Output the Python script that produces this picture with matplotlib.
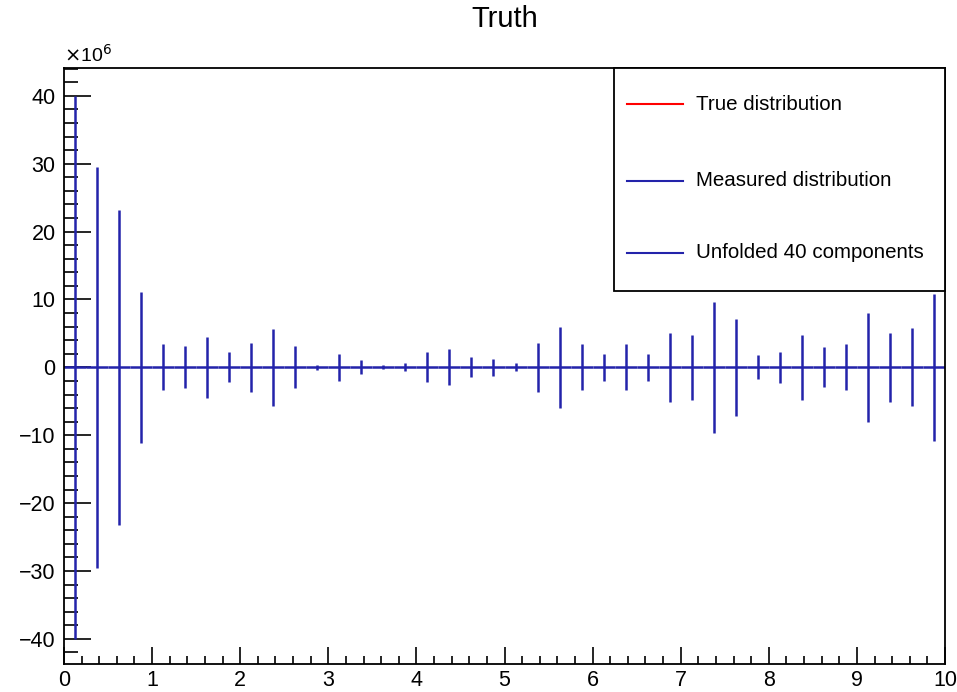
import numpy as np
import matplotlib.pyplot as plt
from matplotlib.ticker import MultipleLocator, FuncFormatter
from matplotlib.patches import Rectangle
from matplotlib.lines import Line2D

plt.rcParams['font.family'] = ['Liberation Sans', 'DejaVu Sans']

# 40 bins on [0, 10]
bin_centers = np.arange(40) * 0.25 + 0.125
unfolded_values = np.zeros(40)
# errors in units of 1e6
unfolded_errors = [40.0, 29.5, 23.2, 11.1, 3.38, 3.09, 4.5, 2.2, 3.58, 5.64,
                   3.09, 0.34, 1.96, 1.03, 0.3, 0.59, 2.2, 2.65, 1.47, 1.28,
                   0.59, 3.6, 5.94, 3.38, 2.01, 3.38, 2.01, 5.05, 4.81, 9.67,
                   7.11, 1.77, 2.26, 4.81, 2.94, 3.38, 8.05, 5.05, 5.74, 10.8]
legend_labels = ['True distribution', 'Measured distribution', 'Unfolded 40 components']
legend_colors = ['red', '#2323aa', '#2323aa']

blue = '#2323aa'
W, H = 957, 692

fig = plt.figure(figsize=(9.57, 6.92), dpi=100)
ax = fig.add_axes([64 / W, 1 - 664 / H, 881 / W, 596 / H])

ax.errorbar(bin_centers, unfolded_values, yerr=unfolded_errors, xerr=0.125,
            fmt='none', ecolor=blue, elinewidth=1.8, capsize=0)

ax.set_xlim(0, 10)
ax.set_ylim(-43.7, 44.1)

# ROOT-like axes: ticks inside, only on left/bottom
ax.xaxis.set_major_locator(MultipleLocator(1))
ax.xaxis.set_minor_locator(MultipleLocator(0.2))
ax.yaxis.set_major_locator(MultipleLocator(10))
ax.yaxis.set_minor_locator(MultipleLocator(2))
ax.tick_params(axis='x', which='major', direction='in', length=12, width=1.2,
               labelsize=15.5, pad=4)
ax.tick_params(axis='x', which='minor', direction='in', length=5.5, width=1.2)
ax.tick_params(axis='y', which='major', direction='in', length=19.5, width=1.2,
               labelsize=15.5, pad=6)
ax.tick_params(axis='y', which='minor', direction='in', length=10, width=1.2)
ax.yaxis.set_major_formatter(FuncFormatter(lambda v, p: f'{v:.0f}'.replace('-', '\u2212')))
for s in ax.spines.values():
    s.set_linewidth(1.3)

fig.text(64 / W, 1 - 66 / H, r'$\times$10$^{6}$', fontsize=14, ha='left', va='bottom')
fig.text(0.527, 0.972, 'Truth', fontsize=21, ha='center', va='center')

# legend box drawn ROOT-style
fig.patches.append(Rectangle((614 / W, 1 - 291 / H), 331 / W, 223 / H,
                             transform=fig.transFigure, fill=True, facecolor='white',
                             edgecolor='black', lw=1.3, zorder=5))
for yy, lab, col in zip([104, 181, 253], legend_labels, legend_colors):
    fy = 1 - yy / H
    fig.lines.append(Line2D([627 / W, 683 / W], [fy, fy], transform=fig.transFigure,
                            color=col, lw=1.5, zorder=6))
    fig.text(696 / W, fy, lab, fontsize=14.8, ha='left', va='center', zorder=6)

plt.savefig('out.png', dpi=100)
